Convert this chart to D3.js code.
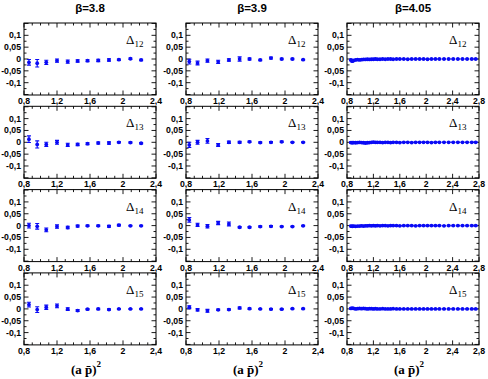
<!DOCTYPE html>
<html>
<head>
<meta charset="utf-8">
<script src="https://cdn.jsdelivr.net/npm/d3@7"></script>
<style>
  body { margin: 0; background: #fff; }
  text { font-family: "Liberation Sans", Arial, sans-serif; }
  .tick-label { font-size: 8.7px; font-weight: bold; }
  .title { font-size: 11.5px; font-weight: bold; }
  .serif { font-family: "Liberation Serif", "Times New Roman", serif; }
</style>
</head>
<body>
<svg id="chart" width="488" height="379"></svg>
<script>
"use strict";

var betas = ["3.8", "3.9", "4.05"];
var deltas = ["12", "13", "14", "15"];
var xDomains = [[0.8, 2.4], [0.8, 2.4], [0.8, 2.8]];
var xTickLabels = [[0.8, 1.2, 1.6, 2, 2.4], [0.8, 1.2, 1.6, 2, 2.4], [0.8, 1.2, 1.6, 2, 2.4, 2.8]];
var yTickLabels = [0.1, 0.05, 0, -0.05, -0.1];

// beta = 3.8
var x38 = [0.86, 0.96, 1.07, 1.20, 1.33, 1.45, 1.57, 1.70, 1.83, 1.95, 2.09, 2.22];
var y38 = [
  [-0.014, -0.018, -0.014, -0.007, -0.011, -0.008, -0.007, -0.006, -0.004, -0.003, 0.001, -0.004],
  [0.013, -0.009, -0.009, 0.000, -0.011, -0.009, -0.006, -0.003, -0.003, 0.000, -0.001, -0.004],
  [0.000, -0.003, -0.018, -0.004, -0.008, -0.002, -0.001, -0.001, -0.003, 0.002, -0.001, -0.001],
  [0.018, -0.003, 0.007, 0.013, -0.001, -0.007, -0.001, 0.000, -0.003, 0.000, 0.000, 0.000]
];
var e38 = [
  [0.012, 0.016, 0.009, 0.007, 0.007, 0.005, 0.004, 0.005, 0.005, 0.003, 0.003, 0.003],
  [0.014, 0.015, 0.009, 0.008, 0.007, 0.005, 0.004, 0.004, 0.005, 0.003, 0.003, 0.003],
  [0.010, 0.012, 0.008, 0.007, 0.005, 0.004, 0.003, 0.003, 0.004, 0.003, 0.002, 0.002],
  [0.010, 0.012, 0.009, 0.008, 0.006, 0.004, 0.003, 0.003, 0.003, 0.002, 0.002, 0.002]
];

// beta = 3.9
var x39 = [0.84, 0.94, 1.06, 1.19, 1.32, 1.45, 1.57, 1.70, 1.83, 1.96, 2.09, 2.22];
var y39 = [
  [-0.011, -0.017, -0.007, -0.012, -0.004, 0.000, 0.000, -0.004, 0.004, 0.000, 0.000, -0.003],
  [-0.011, 0.000, 0.006, -0.011, 0.000, 0.000, 0.002, -0.001, 0.000, 0.002, 0.000, 0.000],
  [0.024, 0.003, -0.003, 0.011, 0.007, -0.007, -0.007, -0.004, -0.003, -0.004, -0.004, -0.001],
  [0.007, -0.004, -0.008, -0.004, -0.003, 0.004, 0.001, 0.000, -0.001, -0.001, 0.001, 0.001]
];
var e39 = [
  [0.010, 0.008, 0.007, 0.007, 0.005, 0.009, 0.004, 0.003, 0.004, 0.003, 0.003, 0.002],
  [0.011, 0.008, 0.010, 0.006, 0.005, 0.004, 0.003, 0.003, 0.003, 0.003, 0.002, 0.002],
  [0.010, 0.007, 0.007, 0.007, 0.008, 0.003, 0.003, 0.003, 0.003, 0.002, 0.002, 0.002],
  [0.006, 0.005, 0.006, 0.003, 0.003, 0.004, 0.003, 0.002, 0.002, 0.002, 0.002, 0.002]
];

// beta = 4.05
var x405 = [0.86, 0.88, 0.90, 0.93, 0.96, 0.99, 1.02, 1.05, 1.08, 1.11, 1.14, 1.17, 1.20, 1.23,
  1.26, 1.30, 1.34, 1.38, 1.42, 1.46, 1.50, 1.55, 1.60, 1.66, 1.72, 1.78, 1.84, 1.90, 1.96,
  2.02, 2.08, 2.14, 2.20, 2.27, 2.34, 2.41, 2.48, 2.55, 2.62, 2.69, 2.75];
var y405 = [
  [-0.004, -0.009, -0.006, -0.004, -0.003, -0.004, -0.003, -0.002, -0.002, -0.001, -0.002, -0.001, -0.001, 0.000,
   -0.001, -0.001, 0.000, -0.001, 0.000, 0.000, -0.001, 0.000, 0.000, 0.000, -0.001, 0.000, 0.000, 0.000, 0.000,
   -0.001, 0.000, 0.000, 0.000, 0.000, 0.000, 0.000, 0.000, 0.000, 0.000, 0.000, 0.000],
  [-0.001, -0.002, -0.001, -0.002, -0.001, 0.000, -0.001, -0.002, -0.003, -0.002, -0.001, 0.000, 0.001, 0.000,
   0.000, 0.000, -0.001, 0.000, 0.000, -0.001, 0.000, 0.000, -0.001, 0.000, 0.000, -0.001, 0.000, 0.000, 0.000,
   0.000, -0.001, 0.000, 0.000, 0.000, 0.000, 0.000, 0.000, 0.000, 0.000, 0.000, 0.000],
  [-0.002, -0.003, -0.002, -0.003, -0.002, -0.002, -0.001, -0.002, -0.001, -0.001, 0.000, -0.001, 0.000, -0.001,
   0.000, -0.001, 0.000, 0.000, -0.001, 0.000, 0.000, 0.000, -0.001, 0.000, 0.000, 0.000, -0.001, 0.000, 0.000,
   0.000, 0.000, 0.000, 0.000, -0.001, 0.000, 0.000, 0.000, 0.000, 0.000, 0.000, 0.000],
  [0.002, 0.003, 0.002, 0.000, 0.001, 0.002, 0.001, 0.002, 0.001, 0.000, 0.001, 0.001, 0.000, 0.001,
   0.000, 0.000, 0.001, 0.000, 0.000, 0.000, 0.001, 0.000, 0.000, 0.000, 0.000, 0.000, 0.000, 0.000, 0.000,
   0.000, 0.000, 0.000, 0.000, 0.000, 0.000, 0.000, 0.000, 0.000, 0.000, 0.000, 0.000]
];
var e405 = [0.003, 0.003, 0.003, 0.002, 0.002, 0.002, 0.002, 0.002, 0.002, 0.002, 0.002, 0.002, 0.002, 0.002,
  0.002, 0.002, 0.001, 0.001, 0.001, 0.001, 0.001, 0.001, 0.001, 0.001, 0.001, 0.001, 0.001, 0.001, 0.001,
  0.001, 0.001, 0.001, 0.001, 0.001, 0.001, 0.001, 0.001, 0.001, 0.001, 0.001, 0.001];

var columns = [
  { x: x38, y: y38, err: function(r, i) { return e38[r][i]; } },
  { x: x39, y: y39, err: function(r, i) { return e39[r][i]; } },
  { x: x405, y: y405, err: function(r, i) { return e405[i]; } }
];

var colLeft = [24, 186, 347];
var colWidth = 132;
var rowTop = 23, rowHeight = 72, rowStep = 83.3;
var blue = "#0a0af5";

var svg = d3.select("#chart");

function fmt(v) {
  return String(+v.toFixed(2)).replace(".", ",");
}

columns.forEach(function(col, c) {
  var x0 = colLeft[c];
  var xScale = d3.scaleLinear().domain(xDomains[c]).range([x0, x0 + colWidth]);
  var xMinor = d3.range(xDomains[c][0], xDomains[c][1] + 0.001, 0.1);

  svg.append("text")
    .attr("class", "title")
    .attr("x", x0 + colWidth / 2)
    .attr("y", 12)
    .attr("text-anchor", "middle")
    .text("\u03b2=" + betas[c]);

  deltas.forEach(function(d, r) {
    var top = rowTop + r * rowStep;
    var yScale = d3.scaleLinear().domain([-0.152, 0.152]).range([top + rowHeight, top]);
    var g = svg.append("g");

    // inward ticks on all four sides
    var yMajor = d3.range(-0.15, 0.1501, 0.05);
    var yMinor = d3.range(-0.125, 0.13, 0.05);
    var tickPaths = [];
    xMinor.forEach(function(v) {
      var len = (Math.round((v - 0.8) * 10) % 4 === 0) ? 4.5 : 2.5;
      var px = xScale(v);
      tickPaths.push("M" + px + "," + (top + rowHeight) + "v" + (-len));
      tickPaths.push("M" + px + "," + top + "v" + len);
    });
    yMajor.forEach(function(v) {
      var py = yScale(v);
      tickPaths.push("M" + x0 + "," + py + "h4.5");
      tickPaths.push("M" + (x0 + colWidth) + "," + py + "h-4.5");
    });
    yMinor.forEach(function(v) {
      var py = yScale(v);
      tickPaths.push("M" + x0 + "," + py + "h2.5");
      tickPaths.push("M" + (x0 + colWidth) + "," + py + "h-2.5");
    });
    g.append("path")
      .attr("d", tickPaths.join(""))
      .attr("stroke", "#000")
      .attr("stroke-width", 0.9)
      .attr("fill", "none");

    g.append("rect")
      .attr("x", x0)
      .attr("y", top)
      .attr("width", colWidth)
      .attr("height", rowHeight)
      .attr("fill", "none")
      .attr("stroke", "#000")
      .attr("stroke-width", 1);

    g.selectAll("text.ylab")
      .data(yTickLabels)
      .enter()
      .append("text")
      .attr("class", "tick-label ylab")
      .attr("x", x0 - 3)
      .attr("y", function(v) { return yScale(v) + 3; })
      .attr("text-anchor", "end")
      .text(fmt);

    g.selectAll("text.xlab")
      .data(xTickLabels[c])
      .enter()
      .append("text")
      .attr("class", "tick-label xlab")
      .attr("x", function(v) { return xScale(v); })
      .attr("y", top + rowHeight + 9)
      .attr("text-anchor", "middle")
      .text(fmt);

    // delta label
    var lab = g.append("text")
      .attr("class", "serif")
      .attr("x", x0 + colWidth - 30)
      .attr("y", top + 21)
      .attr("font-size", 13);
    lab.append("tspan").text("\u0394");
    lab.append("tspan")
      .attr("font-size", 9)
      .attr("dy", 3)
      .text(d);

    var pts = col.x.map(function(xv, i) {
      return { x: xv, y: col.y[r][i], e: col.err(r, i) };
    });

    var bars = g.selectAll("g.pt")
      .data(pts)
      .enter()
      .append("g")
      .classed("pt", true);

    bars.append("path")
      .attr("stroke", blue)
      .attr("stroke-width", 1.1)
      .attr("fill", "none")
      .attr("d", function(p) {
        var px = xScale(p.x), y1 = yScale(p.y + p.e), y2 = yScale(p.y - p.e);
        return "M" + px + "," + y1 + "V" + y2 +
          "M" + (px - 2) + "," + y1 + "h4" +
          "M" + (px - 2) + "," + y2 + "h4";
      });

    bars.append("circle")
      .attr("cx", function(p) { return xScale(p.x); })
      .attr("cy", function(p) { return yScale(p.y); })
      .attr("r", 1.9)
      .attr("fill", blue);
  });

  // x axis title
  var t = svg.append("text")
    .attr("class", "serif")
    .attr("x", x0 + colWidth / 2 - 4)
    .attr("y", 374)
    .attr("text-anchor", "middle")
    .attr("font-size", 13)
    .attr("font-weight", "bold");
  t.append("tspan").text("(a p\u0304)");
  t.append("tspan")
    .attr("font-size", 9)
    .attr("dy", -7)
    .text("2");
});
</script>
</body>
</html>
